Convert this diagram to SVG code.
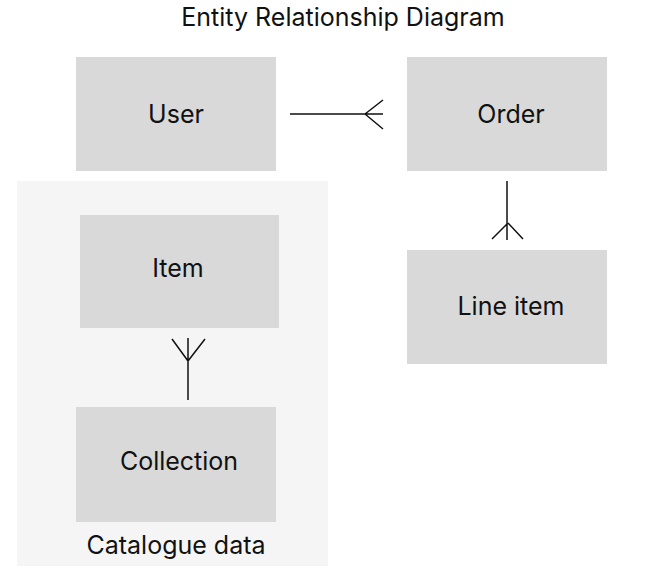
<svg xmlns="http://www.w3.org/2000/svg" width="658" height="574" viewBox="0 0 658 574">
<style>
text{font-family:Inter,"Noto Sans","Liberation Sans",sans-serif;fill:#111;}
.lbl{font-size:25px;text-anchor:middle;dominant-baseline:central;}
.box{fill:#d9d9d9;}
.con{stroke:#111;stroke-width:1.5;fill:none;}
</style>
<rect width="658" height="574" fill="#fff"/>
<text x="343" y="26" font-size="25" text-anchor="middle">Entity Relationship Diagram</text>
<g id="catalogue">
<rect x="17" y="181" width="311" height="385" fill="#f5f5f5"/>
<text x="176" y="554" font-size="25" text-anchor="middle">Catalogue data</text>
</g>
<g id="user"><rect class="box" x="76" y="57" width="200" height="114"/><text class="lbl" x="176" y="114">User</text></g>
<g id="order"><rect class="box" x="407" y="57" width="200" height="114"/><text class="lbl" x="511" y="114">Order</text></g>
<g id="item"><rect class="box" x="80" y="215" width="199" height="113"/><text class="lbl" x="178" y="268">Item</text></g>
<g id="lineitem"><rect class="box" x="407" y="250" width="200" height="114"/><text class="lbl" x="511" y="306">Line item</text></g>
<g id="collection"><rect class="box" x="76" y="407" width="200" height="115"/><text class="lbl" x="179" y="461">Collection</text></g>
<g id="connectors">
<path class="con" d="M290 114H383M365 114L383 100M365 114L383 129"/>
<path class="con" d="M507 181V240M508 223L492 239M508 223L523 239"/>
<path class="con" d="M188 338V400M188 361L172 339M188 361L205 339"/>
</g>
</svg>
